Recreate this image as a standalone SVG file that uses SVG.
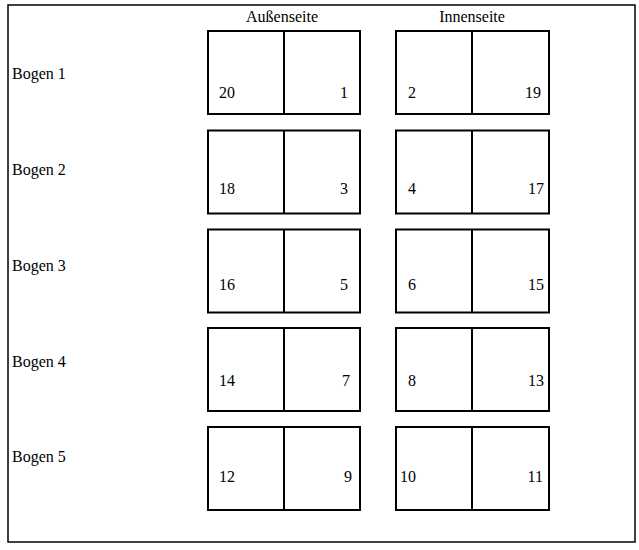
<svg xmlns="http://www.w3.org/2000/svg" width="639" height="550" viewBox="0 0 639 550">
<style>
text{font-family:"Liberation Serif","Times New Roman",serif;font-size:16px;fill:#000}
.box{fill:#fff;stroke:#000;stroke-width:2}
.div{stroke:#000;stroke-width:2}
.frame{fill:none;stroke:#000;stroke-width:1.5}
.r{text-anchor:end}
.m{text-anchor:middle}
</style>
<rect width="639" height="550" fill="#fff"/>
<g id="frame"><rect class="frame" x="8" y="5" width="627" height="537"/></g>
<g id="headers">
<text class="m" x="282" y="22">Außenseite</text>
<text class="m" x="472" y="22">Innenseite</text>
</g>
<g id="labels">
<text x="12" y="79">Bogen 1</text>
<text x="12" y="175">Bogen 2</text>
<text x="12" y="271">Bogen 3</text>
<text x="12" y="367">Bogen 4</text>
<text x="12" y="462">Bogen 5</text>
</g>
<g id="bogen1">
<g id="b1-aussen"><rect class="box" x="208" y="31" width="152" height="83"/><line class="div" x1="284" y1="31" x2="284" y2="114"/><text x="219" y="98">20</text><text class="r" x="348" y="98">1</text></g>
<g id="b1-innen"><rect class="box" x="396" y="31" width="153" height="83"/><line class="div" x1="472" y1="31" x2="472" y2="114"/><text x="408" y="98">2</text><text class="r" x="541" y="98">19</text></g>
</g>
<g id="bogen2">
<g id="b2-aussen"><rect class="box" x="208" y="130.5" width="152" height="83"/><line class="div" x1="284" y1="130.5" x2="284" y2="213.5"/><text x="219" y="194">18</text><text class="r" x="348" y="194">3</text></g>
<g id="b2-innen"><rect class="box" x="396" y="130.5" width="153" height="83"/><line class="div" x1="472" y1="130.5" x2="472" y2="213.5"/><text x="408" y="194">4</text><text class="r" x="544" y="194">17</text></g>
</g>
<g id="bogen3">
<g id="b3-aussen"><rect class="box" x="208" y="229.5" width="152" height="83"/><line class="div" x1="284" y1="229.5" x2="284" y2="312.5"/><text x="219" y="290">16</text><text class="r" x="348" y="290">5</text></g>
<g id="b3-innen"><rect class="box" x="396" y="229.5" width="153" height="83"/><line class="div" x1="472" y1="229.5" x2="472" y2="312.5"/><text x="408" y="290">6</text><text class="r" x="544" y="290">15</text></g>
</g>
<g id="bogen4">
<g id="b4-aussen"><rect class="box" x="208" y="328" width="152" height="83"/><line class="div" x1="284" y1="328" x2="284" y2="411"/><text x="219" y="386">14</text><text class="r" x="350" y="386">7</text></g>
<g id="b4-innen"><rect class="box" x="396" y="328" width="153" height="83"/><line class="div" x1="472" y1="328" x2="472" y2="411"/><text x="408" y="386">8</text><text class="r" x="544" y="386">13</text></g>
</g>
<g id="bogen5">
<g id="b5-aussen"><rect class="box" x="208" y="427" width="152" height="83"/><line class="div" x1="284" y1="427" x2="284" y2="510"/><text x="219" y="482">12</text><text class="r" x="352" y="482">9</text></g>
<g id="b5-innen"><rect class="box" x="396" y="427" width="153" height="83"/><line class="div" x1="472" y1="427" x2="472" y2="510"/><text x="400" y="482">10</text><text class="r" x="543" y="482">11</text></g>
</g>
</svg>
